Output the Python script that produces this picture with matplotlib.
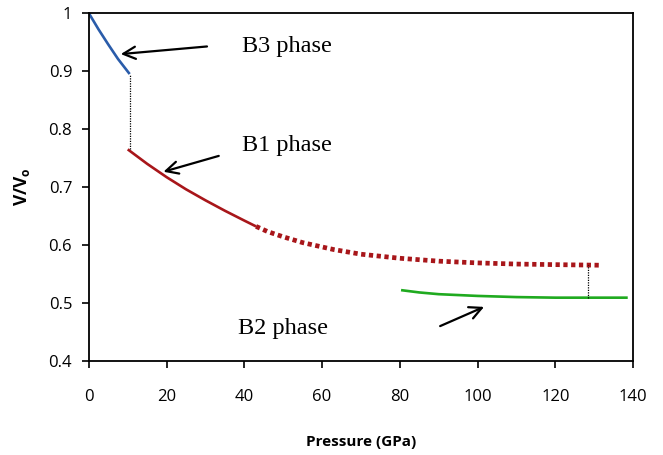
import numpy as np
import matplotlib
matplotlib.use("Agg")
import matplotlib.pyplot as plt

plt.rcParams['font.family'] = ['Open Sans', 'DejaVu Sans']
plt.rcParams['mathtext.fontset'] = 'custom'
plt.rcParams['mathtext.rm'] = 'Open Sans'
plt.rcParams['mathtext.bf'] = 'Open Sans:bold'

# B3 (zinc blende) branch
p_b3 = [0, 2.5, 5, 7.5, 10.5]
v_b3 = [1.0, 0.972, 0.946, 0.921, 0.895]

# B1 (rock salt) branch, computed part
p_b1 = [10, 15, 20, 25, 30, 35, 40, 43]
v_b1 = [0.765, 0.740, 0.717, 0.696, 0.677, 0.659, 0.642, 0.632]

# B1 extrapolated (dotted)
p_b1x = [43, 46, 50, 55, 63, 70, 80, 90, 100, 110, 120, 131.5]
v_b1x = [0.632, 0.623, 0.614, 0.604, 0.592, 0.584, 0.577, 0.572, 0.569, 0.567, 0.566, 0.565]

# B2 (CsCl) branch
p_b2 = [80.3, 85, 90, 100, 110, 120, 130, 138.6]
v_b2 = [0.522, 0.518, 0.515, 0.512, 0.510, 0.509, 0.509, 0.509]

# transition pressures, volume jumps
p_trans = [10.5, 128.5]
v_trans_hi = [0.895, 0.566]
v_trans_lo = [0.765, 0.509]

fig = plt.figure(figsize=(6.63, 4.55), dpi=100)
ax = fig.add_axes([0.134, 0.207, 0.821, 0.764])

ax.plot(p_b3, v_b3, color='#2a5caa', lw=1.9, solid_capstyle='butt')
ax.plot(p_b1, v_b1, color='#a8161a', lw=1.9, solid_capstyle='butt')
ax.plot(p_b1x, v_b1x, color='#a8161a', lw=3.4, linestyle=(0, (0.9, 0.75)),
        dash_capstyle='butt')
ax.plot(p_b2, v_b2, color='#1faa1f', lw=1.9, solid_capstyle='butt')
ax.vlines(p_trans, v_trans_lo, v_trans_hi, colors='black', lw=0.9,
          linestyles=(0, (1, 1)))

serif = ['Liberation Serif', 'DejaVu Serif']
arrow = dict(arrowstyle='->', color='black', lw=1.6, mutation_scale=22)
ax.annotate('', xy=(7.5, 0.929), xytext=(31.1, 0.943), arrowprops=arrow)
ax.annotate('', xy=(18.5, 0.725), xytext=(34.1, 0.755), arrowprops=arrow)
ax.annotate('', xy=(102.3, 0.495), xytext=(89.7, 0.458), arrowprops=arrow)
ax.text(39.4, 0.943, 'B3 phase', family=serif, fontsize=17.5, va='center')
ax.text(39.4, 0.772, 'B1 phase', family=serif, fontsize=17.5, va='center')
ax.text(38.3, 0.455, 'B2 phase', family=serif, fontsize=17.5, va='center')

ax.set_xlim(0, 140)
ax.set_ylim(0.4, 1.0)
ax.set_xticks(np.arange(0, 141, 20))
ax.set_yticks([0.4, 0.5, 0.6, 0.7, 0.8, 0.9, 1.0])
ax.set_yticklabels(['0.4', '0.5', '0.6', '0.7', '0.8', '0.9', '1'])
ax.tick_params(axis='both', direction='out', length=5, width=1.2,
               labelsize=12, colors='black')
ax.tick_params(axis='x', pad=15)
ax.tick_params(axis='y', pad=7)
for s in ax.spines.values():
    s.set_linewidth(1.3)

ax.set_xlabel('Pressure (GPa)', fontsize=11, fontweight='bold', labelpad=22)
ax.set_ylabel(r'$\mathbf{V/V_o}$', fontsize=12.5, labelpad=12)

fig.savefig('out.png', dpi=100)
